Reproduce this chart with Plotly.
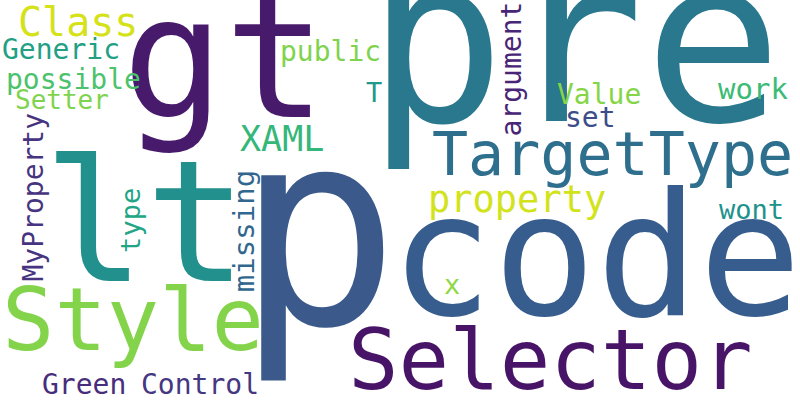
import plotly.graph_objects as go

# words of the cloud and their colours
words = ["p", "pre", "gt", "lt", "code", "Selector", "Style", "TargetType",
         "Class", "Generic", "possible", "Setter", "public", "T", "XAML",
         "property", "wont", "x", "Green", "Control", "Value", "set", "work",
         "MyProperty", "type", "missing", "argument"]
colors = ["#3b5a8b", "#2a788e", "#481a6c", "#22908c", "#365d8d", "#481467",
          "#84d44b", "#2e6f8e", "#d5e21a", "#23a083", "#4cc26c", "#7fd34e",
          "#7fd34e", "#22988a", "#35b779", "#d2e21b", "#20928c", "#8fd744",
          "#472d7b", "#453781", "#86d549", "#3d4d8a", "#3bbb75",
          "#463480", "#21a585", "#31678e", "#482576"]

# layout of the cloud: centre along the text, baseline, font size, rotation
along = [318, 574, 224, 145, 596, 550, 133, 612,
         78, 61, 73, 62, 330, 374, 282,
         517, 751, 452, 84, 200, 599, 590, 753,
         197, 220, 231, 69]
baseline = [332, 128, 122, 286, 320, 391, 353, 176,
            37, 60, 90, 110, 62, 103, 152,
            213, 220, 295, 395, 395, 105, 128, 100,
            43, 140, 255, 521]
sizes = [272, 230, 170, 170, 171, 84, 87, 60,
         40, 28, 28, 26, 28, 27, 35,
         37, 27, 27, 28, 28, 28, 28, 29,
         28, 27, 29, 28]
angles = [0] * 23 + [-90] * 4

K = 0.375  # offset from baseline to the middle of the text box, in em

fig = go.Figure()
for w, c, a, b, s, ang in zip(words, colors, along, baseline, sizes, angles):
    if ang == 0:
        x, y = a, b - K * s
    else:
        x, y = b - K * s, a
    fig.add_annotation(x=x, y=y, text=w, textangle=ang, showarrow=False,
                       xanchor="center", yanchor="middle", borderpad=0,
                       font=dict(family="DejaVu Sans Mono", size=s, color=c))

fig.update_xaxes(range=[0, 800], visible=False)
fig.update_yaxes(range=[400, 0], visible=False)
fig.update_layout(width=800, height=400, margin=dict(l=0, r=0, t=0, b=0),
                  plot_bgcolor="white", paper_bgcolor="white", showlegend=False)
fig.write_html("out.html", config={"displayModeBar": False},
               post_script="document.body.style.margin='0';")
